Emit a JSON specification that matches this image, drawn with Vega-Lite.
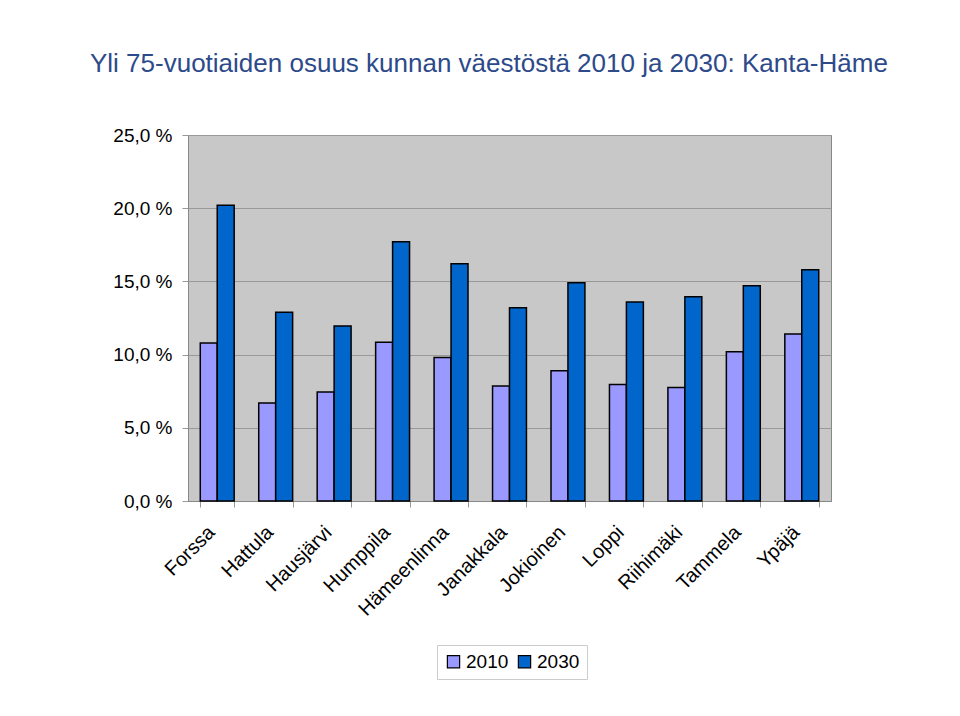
{
  "$schema": "https://vega.github.io/schema/vega-lite/v6.json",
  "autosize": "none",
  "width": 643,
  "height": 366,
  "padding": {"left": 188, "top": 135, "right": 129, "bottom": 215},
  "background": "white",
  "title": {
    "text": "Yli 75-vuotiaiden osuus kunnan väestöstä 2010 ja 2030: Kanta-Häme",
    "anchor": "start",
    "frame": "group",
    "dx": -98,
    "offset": 28,
    "baseline": "alphabetic",
    "font": "Liberation Sans",
    "fontSize": 26,
    "fontWeight": "normal",
    "color": "#2D4A8A"
  },
  "data": {
    "values": [
      {"kunta": "Forssa", "vuosi": "2010", "osuus": 10.8},
      {"kunta": "Forssa", "vuosi": "2030", "osuus": 20.2},
      {"kunta": "Hattula", "vuosi": "2010", "osuus": 6.7},
      {"kunta": "Hattula", "vuosi": "2030", "osuus": 12.9},
      {"kunta": "Hausjärvi", "vuosi": "2010", "osuus": 7.45},
      {"kunta": "Hausjärvi", "vuosi": "2030", "osuus": 11.95},
      {"kunta": "Humppila", "vuosi": "2010", "osuus": 10.85},
      {"kunta": "Humppila", "vuosi": "2030", "osuus": 17.7},
      {"kunta": "Hämeenlinna", "vuosi": "2010", "osuus": 9.8},
      {"kunta": "Hämeenlinna", "vuosi": "2030", "osuus": 16.2},
      {"kunta": "Janakkala", "vuosi": "2010", "osuus": 7.85},
      {"kunta": "Janakkala", "vuosi": "2030", "osuus": 13.2},
      {"kunta": "Jokioinen", "vuosi": "2010", "osuus": 8.9},
      {"kunta": "Jokioinen", "vuosi": "2030", "osuus": 14.9},
      {"kunta": "Loppi", "vuosi": "2010", "osuus": 7.95},
      {"kunta": "Loppi", "vuosi": "2030", "osuus": 13.6},
      {"kunta": "Riihimäki", "vuosi": "2010", "osuus": 7.75},
      {"kunta": "Riihimäki", "vuosi": "2030", "osuus": 13.95},
      {"kunta": "Tammela", "vuosi": "2010", "osuus": 10.2},
      {"kunta": "Tammela", "vuosi": "2030", "osuus": 14.7},
      {"kunta": "Ypäjä", "vuosi": "2010", "osuus": 11.4},
      {"kunta": "Ypäjä", "vuosi": "2030", "osuus": 15.8}
    ]
  },
  "mark": {"type": "bar", "stroke": "black", "strokeWidth": 1.5},
  "encoding": {
    "x": {
      "field": "kunta",
      "type": "nominal",
      "sort": null,
      "title": null,
      "scale": {"paddingInner": 0.42, "paddingOuter": 0.21},
      "axis": {
        "labelAngle": -45,
        "labelAlign": "right",
        "labelBaseline": "middle",
        "labelFont": "Liberation Sans",
        "labelFontSize": 20,
        "labelColor": "black",
        "labelPadding": 22,
        "labelOffset": -6,
        "tickBand": "extent",
        "tickColor": "#999999",
        "tickSize": 6,
        "domainColor": "#888888",
        "grid": false
      }
    },
    "xOffset": {"field": "vuosi", "type": "nominal"},
    "y": {
      "field": "osuus",
      "type": "quantitative",
      "title": null,
      "scale": {"domain": [0, 25], "nice": false},
      "axis": {
        "values": [0, 5, 10, 15, 20, 25],
        "labelExpr": "replace(format(datum.value, '.1f'), '.', ',') + ' %'",
        "labelFont": "Liberation Sans",
        "labelFontSize": 19,
        "labelColor": "black",
        "labelPadding": 10,
        "tickColor": "#999999",
        "tickSize": 6,
        "domainColor": "#888888",
        "gridColor": "#999999",
        "gridWidth": 1
      }
    },
    "color": {
      "field": "vuosi",
      "type": "nominal",
      "scale": {"domain": ["2010", "2030"], "range": ["#9999FF", "#0066CC"]},
      "legend": {
        "title": null,
        "orient": "none",
        "legendX": 249,
        "legendY": 510,
        "direction": "horizontal",
        "symbolType": "square",
        "symbolSize": 150,
        "symbolStrokeColor": "black",
        "symbolStrokeWidth": 1.2,
        "labelFont": "Liberation Sans",
        "labelFontSize": 19,
        "labelColor": "black",
        "columnPadding": 6,
        "labelOffset": 3,
        "padding": 7,
        "strokeColor": "#cccccc",
        "fillColor": "white"
      }
    }
  },
  "config": {
    "view": {"fill": "#C8C8C8", "stroke": "#888888", "strokeWidth": 1},
    "axis": {"gridColor": "#999999"}
  }
}
